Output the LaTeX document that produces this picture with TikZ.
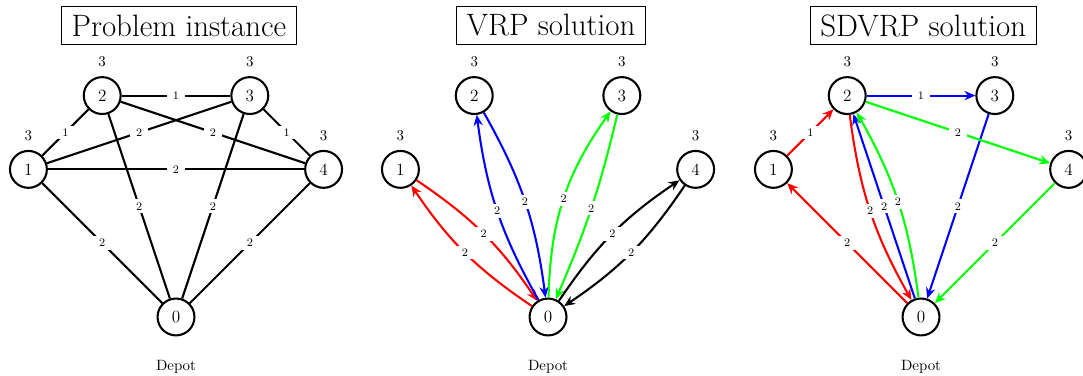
\documentclass[tikz,border=0pt]{standalone}
\usetikzlibrary{arrows.meta}
\definecolor{pred}{RGB}{255,0,0}
\definecolor{pblue}{RGB}{0,0,255}
\definecolor{pgreen}{RGB}{0,255,0}
\newcommand\sctext[2]{\scalebox{0.575}{\fontsize{#1}{#1}\selectfont #2}}
\tikzset{
  vtx/.style={circle, draw, thick, minimum size=0.5cm, inner sep=0pt},
  dem/.style={inner sep=0pt},
  depotlbl/.style={inner sep=0pt},
  ttl/.style={draw, thin, inner xsep=4pt, inner ysep=3.2pt},
  ln/.style={thick},
  arr/.style={thick, -{Stealth[length=4.2pt,width=3.6pt,inset=1.4pt]}},
  wt/.style={fill=white, text=black, inner xsep=2.4pt, inner ysep=1.2pt},
}
\newcommand\vnum[1]{\sctext{11.5pt}{#1}}
\newcommand\dnum[1]{\sctext{10pt}{#1}}
\newcommand\wnum[1]{\sctext{7.7pt}{#1}}
\newcommand\tnum[1]{\sctext{20.74pt}{#1}}
\begin{document}
\begin{tikzpicture}
\useasboundingbox (-2.385,-0.799) rectangle (12.29,4.295);
% ---------------- Panel 1 ----------------
\begin{scope}
\node[ttl] (at) at (0.04,3.95) {\tnum{Problem instance}};
\node[vtx] (a0) at (0,0) {\vnum{0}};
\node[vtx] (a1) at (-2,2) {\vnum{1}};
\node[vtx] (a2) at (-1,3) {\vnum{2}};
\node[vtx] (a3) at (1,3) {\vnum{3}};
\node[vtx] (a4) at (2,2) {\vnum{4}};
\node[dem] (a1d) at (-2,2.455) {\dnum{3}};
\node[dem] (a2d) at (-1,3.455) {\dnum{3}};
\node[dem] (a3d) at (1,3.455) {\dnum{3}};
\node[dem] (a4d) at (2,2.455) {\dnum{3}};
\node[depotlbl] (adep) at (0,-0.68) {\dnum{Depot}};
\draw[ln] (a2) -- node[wt]{\wnum{1}} (a3);
\draw[ln] (a1) -- node[wt]{\wnum{1}} (a2);
\draw[ln] (a3) -- node[wt]{\wnum{1}} (a4);
\draw[ln] (a1) -- node[wt]{\wnum{2}} (a3);
\draw[ln] (a2) -- node[wt]{\wnum{2}} (a4);
\draw[ln] (a1) -- node[wt]{\wnum{2}} (a4);
\draw[ln] (a2) -- node[wt]{\wnum{2}} (a0);
\draw[ln] (a3) -- node[wt]{\wnum{2}} (a0);
\draw[ln] (a1) -- node[wt]{\wnum{2}} (a0);
\draw[ln] (a4) -- node[wt]{\wnum{2}} (a0);
\end{scope}
% ---------------- Panel 2 ----------------
\begin{scope}[xshift=5.041cm]
\node[ttl] (bt) at (0.04,3.95) {\tnum{VRP solution}};
\node[vtx] (b0) at (0,0) {\vnum{0}};
\node[vtx] (b1) at (-2,2) {\vnum{1}};
\node[vtx] (b2) at (-1,3) {\vnum{2}};
\node[vtx] (b3) at (1,3) {\vnum{3}};
\node[vtx] (b4) at (2,2) {\vnum{4}};
\node[dem] (b1d) at (-2,2.455) {\dnum{3}};
\node[dem] (b2d) at (-1,3.455) {\dnum{3}};
\node[dem] (b3d) at (1,3.455) {\dnum{3}};
\node[dem] (b4d) at (2,2.455) {\dnum{3}};
\node[depotlbl] (bdep) at (0,-0.68) {\dnum{Depot}};
\draw[arr, pred] (b0) to[bend left=11] node[wt]{\wnum{2}} (b1);
\draw[arr, pred] (b1) to[bend left=11] node[wt]{\wnum{2}} (b0);
\draw[arr, pblue] (b0) to[bend left=11] node[wt]{\wnum{2}} (b2);
\draw[arr, pblue] (b2) to[bend left=11] node[wt]{\wnum{2}} (b0);
\draw[arr, pgreen] (b0) to[bend left=17] node[wt]{\wnum{2}} (b3);
\draw[arr, pgreen] (b3) to[bend left=5] node[wt]{\wnum{2}} (b0);
\draw[arr, black] (b0) to[bend left=11] node[wt]{\wnum{2}} (b4);
\draw[arr, black] (b4) to[bend left=11] node[wt]{\wnum{2}} (b0);
\end{scope}
% ---------------- Panel 3 ----------------
\begin{scope}[xshift=10.095cm]
\node[ttl] (ct) at (0.03,3.95) {\tnum{SDVRP solution}};
\node[vtx] (c0) at (0,0) {\vnum{0}};
\node[vtx] (c1) at (-2,2) {\vnum{1}};
\node[vtx] (c2) at (-1,3) {\vnum{2}};
\node[vtx] (c3) at (1,3) {\vnum{3}};
\node[vtx] (c4) at (2,2) {\vnum{4}};
\node[dem] (c1d) at (-2,2.455) {\dnum{3}};
\node[dem] (c2d) at (-1,3.455) {\dnum{3}};
\node[dem] (c3d) at (1,3.455) {\dnum{3}};
\node[dem] (c4d) at (2,2.455) {\dnum{3}};
\node[depotlbl] (cdep) at (0,-0.68) {\dnum{Depot}};
\draw[arr, pred] (c0) -- node[wt]{\wnum{2}} (c1);
\draw[arr, pred] (c1) -- node[wt]{\wnum{1}} (c2);
\draw[arr, pred] (c2) to[bend right=11] node[wt]{\wnum{2}} (c0);
\draw[arr, pblue] (c0) -- node[wt]{\wnum{2}} (c2);
\draw[arr, pblue] (c2) -- node[wt]{\wnum{1}} (c3);
\draw[arr, pblue] (c3) -- node[wt]{\wnum{2}} (c0);
\draw[arr, pgreen] (c0) to[bend right=11] node[wt]{\wnum{2}} (c2);
\draw[arr, pgreen] (c2) -- node[wt]{\wnum{2}} (c4);
\draw[arr, pgreen] (c4) -- node[wt]{\wnum{2}} (c0);
\end{scope}
\end{tikzpicture}
\end{document}
